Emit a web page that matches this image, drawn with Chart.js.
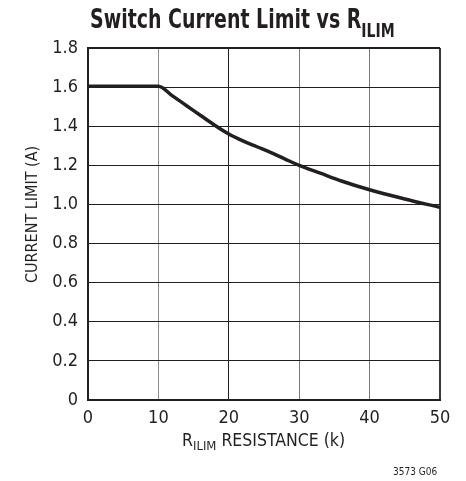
<!DOCTYPE html>
<html>
<head>
<meta charset="utf-8">
<script src="https://cdn.jsdelivr.net/npm/chart.js@4.4.0/dist/chart.umd.min.js"></script>
<style>
  body { margin: 0; background: #fff; }
  #wrap { position: relative; width: 466px; height: 481px; }
  #graf { position: absolute; left: 0; top: 0; }
  .txt { position: absolute; font-family: 'Liberation Sans Narrow', 'DejaVu Sans Condensed', sans-serif; color: #231f20; white-space: nowrap; }
  #titulo { left: 90px; top: 4px; font-size: 27px; font-weight: bold; line-height: 30px; transform: scaleX(0.78); transform-origin: left top; }
  #titulo sub { font-size: 20px; vertical-align: -9px; line-height: 0; }
  #tituloX { left: 182px; top: 430px; font-size: 17.5px; line-height: 20px; }
  #tituloX sub { font-size: 13px; vertical-align: -4px; line-height: 0; }
  #tituloY { left: 23px; top: 283px; font-size: 16px; line-height: 18px; transform: rotate(-90deg); transform-origin: left top; }
  #codigo { left: 393px; top: 466px; font-size: 10px; line-height: 12px; }
</style>
</head>
<body>
<div id="wrap">
  <canvas id="graf" width="466" height="481"></canvas>
  <div class="txt" id="titulo">Switch Current Limit vs R<sub>ILIM</sub></div>
  <div class="txt" id="tituloX">R<sub>ILIM</sub> RESISTANCE (k)</div>
  <div class="txt" id="tituloY">CURRENT LIMIT (A)</div>
  <div class="txt" id="codigo">3573 G06</div>
</div>
<script>
// datos
const resistencia = [0, 5, 10, 12, 14, 16, 18, 20, 22, 24, 26, 28, 30, 33, 36, 40, 45, 50];
const limiteCorriente = [1.605, 1.605, 1.605, 1.555, 1.505, 1.455, 1.405, 1.36, 1.325, 1.295, 1.265, 1.232, 1.2, 1.16, 1.12, 1.075, 1.028, 0.985];
const ticksX = [0, 10, 20, 30, 40, 50];
const ticksY = [0, 0.2, 0.4, 0.6, 0.8, 1.0, 1.2, 1.4, 1.6, 1.8];

const fuente = "'Liberation Sans Narrow', 'DejaVu Sans Condensed', sans-serif";
const puntos = resistencia.map(function (r, i) { return { x: r, y: limiteCorriente[i] }; });

// colores de la rejilla vertical (algunas lineas salen mas claras)
const colorVertical = ['#231f20', '#8c8c8c', '#231f20', '#7a7a7a', '#7a7a7a', '#3a3a3a'];

const ctx = document.getElementById('graf');
new Chart(ctx, {
  type: 'line',
  data: {
    datasets: [{
      data: puntos,
      borderColor: '#231f20',
      borderWidth: 3.5,
      pointRadius: 0,
      cubicInterpolationMode: 'monotone',
      fill: false
    }]
  },
  options: {
    responsive: false,
    animation: false,
    layout: { padding: { top: 48, right: 26, left: 0, bottom: 0 } },
    plugins: { legend: { display: false }, tooltip: { enabled: false } },
    scales: {
      x: {
        type: 'linear',
        min: 0,
        max: 50,
        afterBuildTicks: function (scale) { scale.ticks = ticksX.map(function (v) { return { value: v }; }); },
        afterFit: function (scale) { scale.height = 81; },
        ticks: {
          color: '#231f20',
          padding: 8,
          maxRotation: 0,
          font: { family: fuente, size: 18 }
        },
        grid: {
          drawTicks: false,
          color: function (c) { return colorVertical[c.index] || '#231f20'; },
          lineWidth: function (c) { return c.index === 5 ? 2 : 1; }
        },
        border: { color: '#231f20', width: 2 }
      },
      y: {
        min: 0,
        max: 1.8,
        afterBuildTicks: function (scale) { scale.ticks = ticksY.map(function (v) { return { value: v }; }); },
        afterFit: function (scale) { scale.width = 88; },
        ticks: {
          color: '#231f20',
          padding: 10,
          font: { family: fuente, size: 18 },
          callback: function (v) { return v === 0 ? '0' : v.toFixed(1); }
        },
        grid: {
          drawTicks: false,
          color: '#231f20',
          lineWidth: function (c) { return c.index === 9 ? 2 : 1; }
        },
        border: { color: '#231f20', width: 2 }
      }
    }
  }
});
</script>
</body>
</html>
